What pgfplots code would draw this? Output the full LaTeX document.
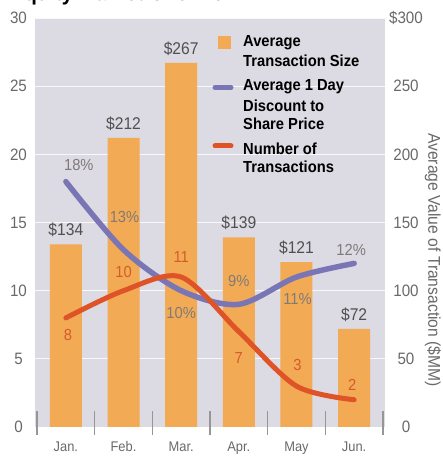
\documentclass[border=0pt]{standalone}
\usepackage{pgfplots}
\pgfplotsset{compat=1.18}
\usepackage{pgfplotstable}
\usepackage{fontspec}
\setmainfont{Liberation Sans}[FakeStretch=0.92]

\definecolor{bggray}{RGB}{220,218,227}
\definecolor{barorange}{RGB}{243,170,84}
\definecolor{discpurple}{RGB}{122,118,182}
\definecolor{countred}{RGB}{222,84,38}
\definecolor{countlab}{RGB}{212,92,42}
\definecolor{tickgray}{RGB}{105,105,105}
\definecolor{labgray}{RGB}{80,80,80}
\definecolor{pctgray}{RGB}{128,122,120}
\definecolor{tickmark}{RGB}{150,150,150}

\newcommand\tickfont{\fontsize{16.5}{18}\selectfont}
\newcommand\monthfont{\fontsize{14}{16}\selectfont}
\newcommand\barfont{\fontsize{17}{19}\selectfont}
\newcommand\pctfont{\fontsize{16}{18}\selectfont}
\newcommand\legfont{\fontsize{16}{18}\selectfont\bfseries}

% average transaction size ($MM)
\pgfplotstableread{
x size
0 134
1 212
2 267
3 139
4 121
5 72
}\sizes

% average 1 day discount (%), with label offsets in pt
\pgfplotstableread{
x pct dx dy
0 18 13 17
1 13 1 33
2 10 0 -22
3 9 0 23
4 11 1 -22
5 12 -3 13
}\discount

% number of transactions, with label offsets in pt
\pgfplotstableread{
x n dx dy
0 8 2 -17
1 10 0 19
2 11 0 20
3 7 0 -26
4 3 1 21
5 2 -2 15
}\counts

\pgfplotsset{
  /pgf/number format/assume math mode=true,
  base/.style={
    width=350pt, height=409pt, scale only axis,
    at={(35pt,30pt)}, anchor=south west,
    xmin=-0.535, xmax=5.535,
    axis line style={draw=none},
    major tick length=0pt,
    clip=false,
  },
}

\begin{document}
\begin{tikzpicture}[x=1pt,y=1pt]
\useasboundingbox (0,0) rectangle (443,457);

% title
\node[anchor=base west, inner sep=0pt, font=\fontsize{22}{24}\selectfont\bfseries]
  at (11,456.8) {Equity Market Overview};

% bars on the dollar axis (right)
\begin{axis}[base,
  ymin=0, ymax=300,
  ytick={0,50,...,300},
  yticklabels={0,50,100,150,200,250,\$300},
  yticklabel pos=right,
  yticklabel style={anchor=center, xshift=21pt, font=\tickfont, text=tickgray},
  xtick=\empty,
  ymajorgrids,
  grid style={white, line width=0.8pt, opacity=0.8},
  axis background/.style={fill=bggray},
]
\addplot[ybar, bar width=0.555, bar shift=0pt, fill=barorange, draw=none,
  nodes near coords={\$\pgfmathprintnumber{\pgfplotspointmeta}},
  every node near coord/.append style={font=\barfont, text=labgray, anchor=south, yshift=4pt}]
  table[x=x, y=size]{\sizes};
\end{axis}

% lines on the count / percent axis (left)
\begin{axis}[base,
  ymin=0, ymax=30,
  ytick={0,5,...,30},
  yticklabels={0,5,10,15,20,25,30},
  yticklabel pos=left,
  yticklabel style={anchor=center, xshift=-16.5pt, font=\tickfont, text=tickgray},
  xtick={0,...,5},
  xticklabels={Jan.,Feb.,Mar.,Apr.,May,Jun.},
  xticklabel style={anchor=base, yshift=-24.5pt, inner sep=0pt, font=\monthfont, text=tickgray},
  minor xtick={-0.5,0.5,...,5.5},
  minor tick length=23pt,
  tick align=center,
  xtick pos=lower, ytick pos=left,
  every minor tick/.append style={draw=tickmark, line width=1.6pt, yshift=4pt},
]
\addplot[discpurple, line width=5.5pt, line cap=round, smooth, mark=none,
  visualization depends on={\thisrow{dx}\as\dx},
  visualization depends on={\thisrow{dy}\as\dy},
  nodes near coords={\pgfmathprintnumber{\pgfplotspointmeta}\%},
  every node near coord/.append style={anchor=center, xshift=\dx pt, yshift=\dy pt,
    font=\pctfont, text=pctgray}]
  table[x=x, y=pct]{\discount};
\addplot[countred, line width=5pt, line cap=round, smooth, mark=none,
  visualization depends on={\thisrow{dx}\as\dx},
  visualization depends on={\thisrow{dy}\as\dy},
  nodes near coords={\pgfmathprintnumber{\pgfplotspointmeta}},
  every node near coord/.append style={anchor=center, xshift=\dx pt, yshift=\dy pt,
    font=\pctfont, text=countlab}]
  table[x=x, y=n]{\counts};
\end{axis}

% legend
\fill[barorange] (218,408) rectangle (231,421);
\draw[discpurple, line width=5pt, line cap=round] (215,369.5) -- (231,369.5);
\draw[countred, line width=5pt, line cap=round] (215,311) -- (231,311);
\begin{scope}[every node/.style={anchor=base west, inner sep=0pt, font=\legfont}]
  \node at (243,410) {Average};
  \node at (243,390) {Transaction Size};
  \node at (243,366) {Average 1 Day};
  \node at (243,345.5) {Discount to};
  \node at (243,327) {Share Price};
  \node at (243,302) {Number of};
  \node at (243,284) {Transactions};
\end{scope}

% right axis title
\node[rotate=-90, font=\fontsize{17}{19}\selectfont, text=tickgray, inner sep=0pt]
  at (433,197) {Average Value of Transaction (\$MM)};
\end{tikzpicture}
\end{document}
